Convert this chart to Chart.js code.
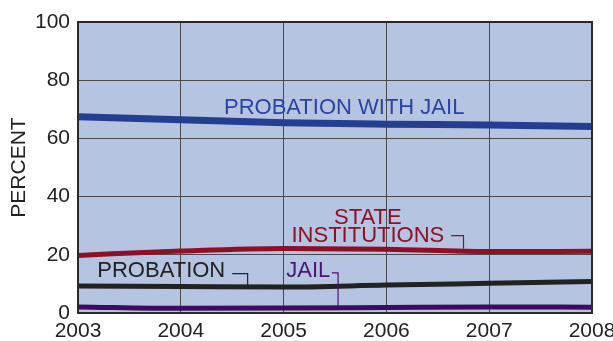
<!DOCTYPE html>
<html>
<head>
<meta charset="utf-8">
<script src="https://cdn.jsdelivr.net/npm/chart.js@4/dist/chart.umd.min.js"></script>
<style>
  html, body { margin: 0; padding: 0; background: #fff; }
</style>
</head>
<body>
<canvas id="sentChart" width="613" height="341"></canvas>
<script>
var years = [2003, 2004, 2005, 2006, 2007, 2008];
var probationWithJail = [67.4, 66.4, 65.4, 64.9, 64.6, 64.1];
var stateInstitutions = [19.8, 21.3, 22.2, 21.9, 21.1, 21.2];
var probation = [9.3, 9.1, 8.9, 9.6, 10.2, 10.8];
var jail = [2.1, 1.6, 1.7, 1.9, 2.1, 2.0];
var yTicks = [0, 20, 40, 60, 80, 100];

function pts(vals) {
  return vals.map(function (v, i) { return { x: years[i], y: v }; });
}

// labels + leader lines, placed in data units
var notes = [
  { text: ['PROBATION WITH JAIL'], x: 2004.42, y: 70.6, align: 'left', color: '#2a44a0' },
  { text: ['STATE', 'INSTITUTIONS'], x: 2005.82, y: 32.7, align: 'center', color: '#8e0f26', lead: [[2006.63, 26.6], [2006.75, 26.6], [2006.75, 22.1]] },
  { text: ['PROBATION'], x: 2003.81, y: 14.4, align: 'center', color: '#222222', lead: [[2004.50, 13.5], [2004.65, 13.5], [2004.65, 9.6]] },
  { text: ['JAIL'], x: 2005.24, y: 14.4, align: 'center', color: '#4a1570', lead: [[2005.47, 13.8], [2005.53, 13.8], [2005.53, 2.3]] }
];

var plotBg = {
  id: 'plotBg',
  beforeDraw: function (chart) {
    var a = chart.chartArea, c = chart.ctx;
    c.save();
    c.fillStyle = '#b5c4e1';
    c.fillRect(a.left, a.top, a.right - a.left, a.bottom - a.top);
    c.restore();
  },
  afterDatasetsDraw: function (chart) {
    var c = chart.ctx, xs = chart.scales.x, ys = chart.scales.y;
    c.save();
    c.font = '22px "Liberation Sans", Arial, sans-serif';
    c.textBaseline = 'middle';
    notes.forEach(function (n) {
      c.fillStyle = n.color;
      c.textAlign = n.align;
      n.text.forEach(function (t, i) {
        c.fillText(t, xs.getPixelForValue(n.x), ys.getPixelForValue(n.y) + i * 18);
      });
      if (n.lead) {
        c.strokeStyle = n.color;
        c.lineWidth = 1.2;
        c.beginPath();
        n.lead.forEach(function (p, i) {
          var px = xs.getPixelForValue(p[0]), py = ys.getPixelForValue(p[1]);
          if (i === 0) c.moveTo(px, py); else c.lineTo(px, py);
        });
        c.stroke();
      }
    });
    var a = chart.chartArea;
    c.strokeStyle = '#2a2a2a';
    c.lineWidth = 2;
    c.strokeRect(a.left, a.top, a.right - a.left, a.bottom - a.top);
    c.restore();
  }
};

function line(label, vals, color, width) {
  return {
    label: label,
    data: pts(vals),
    borderColor: color,
    borderWidth: width,
    pointRadius: 0,
    fill: false,
    cubicInterpolationMode: 'monotone'
  };
}

var ctx = document.getElementById('sentChart').getContext('2d');
var sentChart = new Chart(ctx, {
  type: 'line',
  data: {
    datasets: [
      line('Jail', jail, '#3f0b62', 5),
      line('Probation', probation, '#222222', 5),
      line('State institutions', stateInstitutions, '#8e0f26', 5),
      line('Probation with jail', probationWithJail, '#243e91', 7)
    ]
  },
  plugins: [plotBg],
  options: {
    responsive: false,
    animation: false,
    layout: { padding: { top: 22, right: 21, left: 0, bottom: 0 } },
    plugins: { legend: { display: false }, tooltip: { enabled: false } },
    scales: {
      x: {
        type: 'linear',
        min: 2003,
        max: 2008,
        afterBuildTicks: function (s) { s.ticks = years.map(function (v) { return { value: v }; }); },
        afterFit: function (s) { s.height = 28; s.paddingRight = 0; s.paddingLeft = 0; },
        grid: { color: '#4a4a4a', lineWidth: 1, drawTicks: false },
        border: { display: false },
        ticks: {
          color: '#222',
          padding: 6,
          maxRotation: 0,
          autoSkip: false,
          font: { size: 21, family: '"Liberation Sans", Arial, sans-serif' },
          callback: function (v) { return String(v); }
        }
      },
      y: {
        min: 0,
        max: 100,
        afterBuildTicks: function (s) { s.ticks = yTicks.map(function (v) { return { value: v }; }); },
        afterFit: function (s) { s.width = 78; },
        grid: { color: '#4a4a4a', lineWidth: 1, drawTicks: false },
        border: { display: false },
        ticks: {
          color: '#222',
          padding: 8,
          autoSkip: false,
          font: { size: 21, family: '"Liberation Sans", Arial, sans-serif' }
        },
        title: {
          display: true,
          text: 'PERCENT',
          color: '#222',
          padding: { top: 7, bottom: 0 },
          font: { size: 21, family: '"Liberation Sans", Arial, sans-serif' }
        }
      }
    }
  }
});
</script>
</body>
</html>
